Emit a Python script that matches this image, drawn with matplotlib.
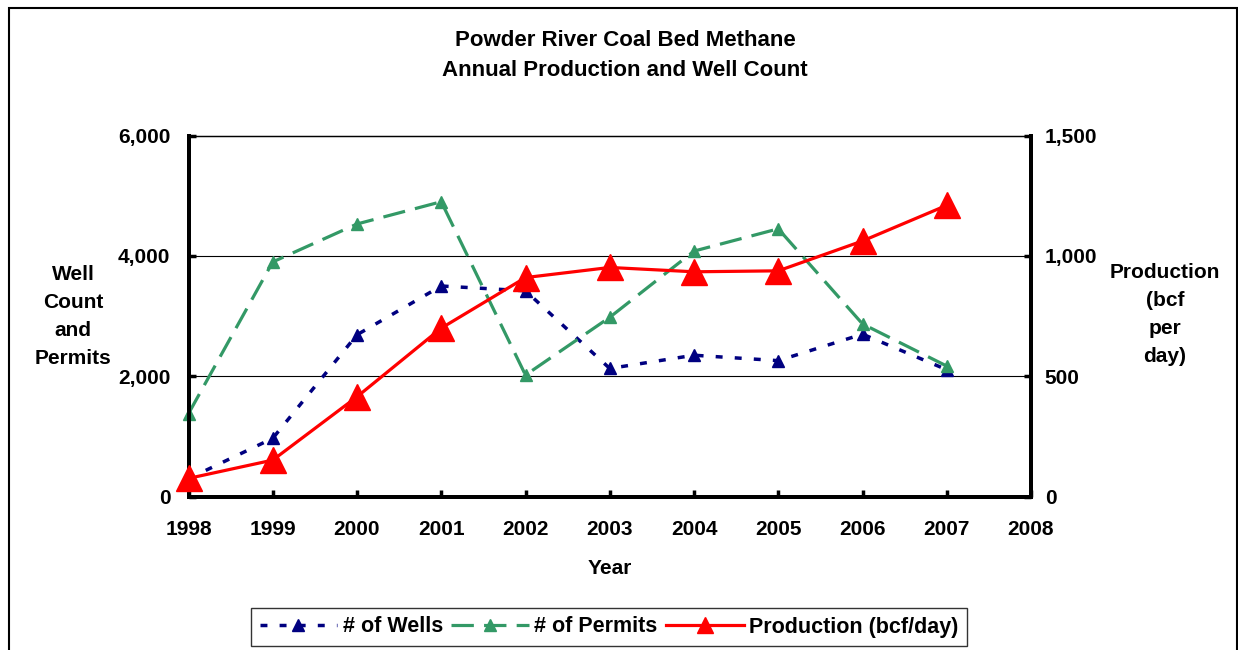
import matplotlib.pyplot as plt
from matplotlib.ticker import StrMethodFormatter
from matplotlib.patches import Rectangle

plt.rcParams['font.family'] = ['Liberation Sans', 'DejaVu Sans']
plt.rcParams['font.weight'] = 'bold'

years = [1998, 1999, 2000, 2001, 2002, 2003, 2004, 2005, 2006, 2007]
wells = [300, 970, 2690, 3500, 3420, 2130, 2350, 2260, 2700, 2110]
permits = [1380, 3900, 4530, 4900, 2020, 2980, 4080, 4450, 2870, 2170]
production = [76, 152, 415, 700, 910, 952, 934, 938, 1062, 1210]

W, H = 1238, 650
fig = plt.figure(figsize=(W / 100, H / 100), dpi=100)
fig.patch.set_facecolor('white')

# outer chart frame (bottom edge runs off the picture)
fig.patches.append(Rectangle((9 / W, -0.05), 1228 / W, 1.05 - 8 / H,
                             transform=fig.transFigure, fill=False,
                             edgecolor='black', lw=1.5))

L, R, T, B = 188.5, 1031, 135.5, 496.7
ax = fig.add_axes([L / W, 1 - B / H, (R - L) / W, (B - T) / H])
ax2 = ax.twinx()

l1, = ax.plot(years, wells, color='#000080', lw=2.5, dashes=(2, 3.5),
              marker='^', ms=8, label='# of Wells', clip_on=False, zorder=3)
l2, = ax.plot(years, permits, color='#339966', lw=2.3, dashes=(7, 3.2),
              marker='^', ms=8, label='# of Permits', clip_on=False, zorder=3)
l3, = ax2.plot(years, production, color='#ff0000', lw=2.3,
               marker='^', ms=18.5, label='Production (bcf/day)', clip_on=False, zorder=4)

ax.set_xlim(1998, 2008)
ax.set_ylim(0, 6000)
ax2.set_ylim(0, 1500)
ax.set_xticks(range(1998, 2009))
ax.set_yticks([0, 2000, 4000, 6000])
ax2.set_yticks([0, 500, 1000, 1500])
ax.yaxis.set_major_formatter(StrMethodFormatter('{x:,.0f}'))
ax2.yaxis.set_major_formatter(StrMethodFormatter('{x:,.0f}'))

for y in [2000, 4000]:
    ax.axhline(y, color='black', lw=0.8, zorder=1)

for a in (ax, ax2):
    a.spines['top'].set_linewidth(0.9)
    for s in ('left', 'bottom', 'right'):
        a.spines[s].set_linewidth(2.8)
ax.tick_params(axis='x', direction='in', length=5, width=2.5, pad=17, labelsize=15)
ax.tick_params(axis='y', direction='in', length=5, width=2.5, pad=13, labelsize=15)
ax2.tick_params(axis='y', direction='in', length=5, width=2.5, pad=10, labelsize=15)

fig.text(625 / W, 1 - 41 / H, 'Powder River Coal Bed Methane', ha='center', va='center', fontsize=16)
fig.text(625 / W, 1 - 71 / H, 'Annual Production and Well Count', ha='center', va='center', fontsize=16)
fig.text(610 / W, 1 - 568 / H, 'Year', ha='center', va='center', fontsize=15)
fig.text(73 / W, 1 - 316 / H, 'Well\nCount\nand\nPermits', ha='center', va='center',
         fontsize=15, linespacing=1.6)
fig.text(1165 / W, 1 - 314 / H, 'Production\n(bcf\nper\nday)', ha='center', va='center',
         fontsize=15, linespacing=1.6)

leg = fig.legend(handles=[l1, l2, l3], loc='center', ncol=3,
                 bbox_to_anchor=(609 / W, 1 - 627 / H), fontsize=15.5,
                 frameon=True, fancybox=False, edgecolor='black', numpoints=1,
                 handlelength=3.6, handletextpad=0.25, columnspacing=0.4,
                 borderpad=0.4, borderaxespad=0)
leg.get_frame().set_linewidth(1.0)
leg.legend_handles[2].set_markersize(11)

fig.savefig('out.png', dpi=100)
